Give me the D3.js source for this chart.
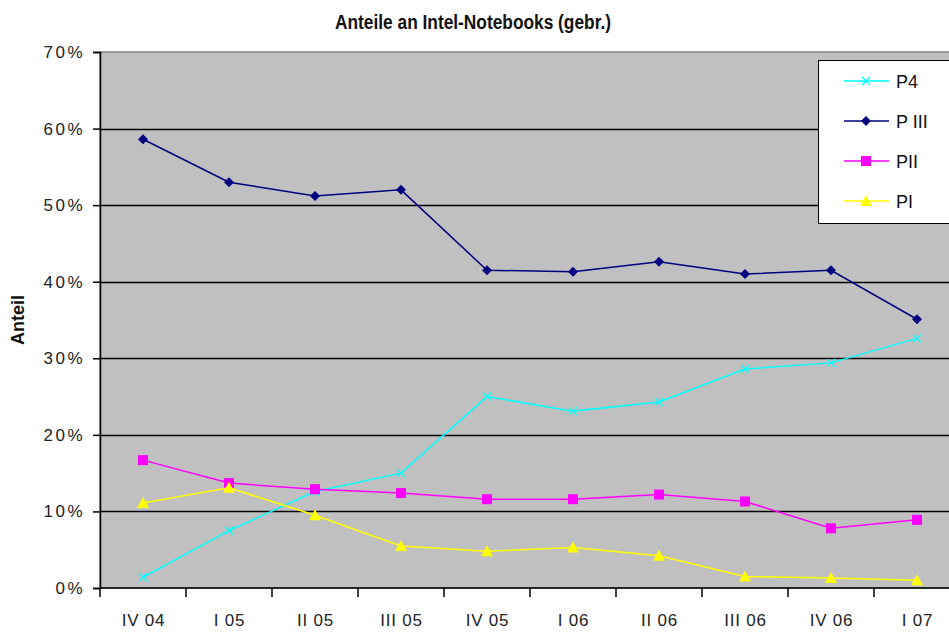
<!DOCTYPE html>
<html>
<head>
<meta charset="utf-8">
<script src="https://cdn.jsdelivr.net/npm/d3@7"></script>
<style>
  body { margin: 0; background: #fff; }
  svg { display: block; font-family: Arial, 'Liberation Sans', sans-serif; }
</style>
</head>
<body>
<div id="chart"></div>
<script>
  // Data
  const categories = ['IV 04', 'I 05', 'II 05', 'III 05', 'IV 05', 'I 06', 'II 06', 'III 06', 'IV 06', 'I 07'];
  const p4   = [1.4, 7.5, 12.6, 15.0, 25.0, 23.1, 24.3, 28.6, 29.4, 32.6];
  const p3   = [58.6, 53.0, 51.2, 52.0, 41.5, 41.3, 42.6, 41.0, 41.5, 35.1];
  const p2   = [16.7, 13.7, 12.9, 12.4, 11.6, 11.6, 12.2, 11.3, 7.8, 8.9];
  const p1   = [11.1, 13.1, 9.5, 5.5, 4.8, 5.3, 4.2, 1.5, 1.3, 1.0];
  const yTicks = [0, 10, 20, 30, 40, 50, 60, 70];

  const series = [
    { name: 'P4', values: p4, color: '#00ffff', marker: 'x' },
    { name: 'P III', values: p3, color: '#000080', marker: 'diamond' },
    { name: 'PII', values: p2, color: '#ff00ff', marker: 'square' },
    { name: 'PI', values: p1, color: '#ffff00', marker: 'triangle' }
  ];

  const width = 949, height = 632;
  const plot = { left: 100, top: 52, right: 960, bottom: 588 };

  const svg = d3.select('#chart').append('svg')
    .attr('width', width).attr('height', height);

  const x = d3.scaleBand().domain(categories).range([plot.left, plot.right]);
  const y = d3.scaleLinear().domain([0, 70]).range([plot.bottom, plot.top]);

  // plot background
  svg.append('rect')
    .attr('x', plot.left).attr('y', plot.top)
    .attr('width', plot.right - plot.left).attr('height', plot.bottom - plot.top)
    .attr('fill', '#c0c0c0').attr('stroke', '#808080').attr('stroke-width', 1.5);

  // gridlines
  svg.append('g').selectAll('line')
    .data(yTicks.filter(t => t > 0 && t < 70))
    .enter().append('line')
    .attr('x1', plot.left).attr('x2', plot.right)
    .attr('y1', d => Math.round(y(d)) + 0.5).attr('y2', d => Math.round(y(d)) + 0.5)
    .attr('stroke', '#000').attr('stroke-width', 1.5);

  // y axis
  const yAxis = svg.append('g')
    .attr('transform', `translate(${plot.left},0)`)
    .call(d3.axisLeft(y).tickValues(yTicks).tickFormat(d => d + '%').tickSize(7).tickPadding(8));
  yAxis.select('.domain').attr('stroke', '#000').attr('stroke-width', 1.5);
  yAxis.selectAll('.tick line').attr('stroke', '#000').attr('stroke-width', 1.5);
  yAxis.selectAll('text').attr('font-size', 17).attr('fill', '#222')
    .attr('letter-spacing', 2.5)
    .attr('font-family', 'Arial, "Liberation Sans", sans-serif');

  // x axis (ticks between categories)
  const xAxisG = svg.append('g').attr('transform', `translate(0,${plot.bottom})`);
  xAxisG.append('line')
    .attr('x1', plot.left).attr('x2', plot.right)
    .attr('y1', 0).attr('y2', 0)
    .attr('stroke', '#000').attr('stroke-width', 1.5);
  const tickPos = categories.map(c => x(c)).concat([x(categories[categories.length - 1]) + x.bandwidth()]);
  xAxisG.selectAll('line.tk').data(tickPos).enter().append('line')
    .attr('class', 'tk')
    .attr('x1', d => d).attr('x2', d => d)
    .attr('y1', 0).attr('y2', 9)
    .attr('stroke', '#000').attr('stroke-width', 1.5);
  xAxisG.selectAll('text').data(categories).enter().append('text')
    .attr('x', d => x(d) + x.bandwidth() / 2 + 0.5)
    .attr('y', 38)
    .attr('text-anchor', 'middle')
    .attr('font-size', 17).attr('fill', '#222')
    .attr('letter-spacing', 0.8)
    .text(d => d);

  // lines
  const line = d3.line()
    .x((d, i) => x(categories[i]) + x.bandwidth() / 2)
    .y(d => y(d));

  function drawMarker(g, type, color) {
    if (type === 'x') {
      g.append('path').attr('d', 'M-4,-4L4,4M-4,4L4,-4')
        .attr('stroke', color).attr('stroke-width', 1.3).attr('fill', 'none');
    } else if (type === 'diamond') {
      g.append('path').attr('d', 'M0,-5L5,0L0,5L-5,0Z').attr('fill', color);
    } else if (type === 'square') {
      g.append('rect').attr('x', -5).attr('y', -5).attr('width', 10).attr('height', 10).attr('fill', color);
    } else if (type === 'triangle') {
      g.append('path').attr('d', 'M0,-6L6,5L-6,5Z').attr('fill', color);
    }
  }

  series.forEach(s => {
    svg.append('path')
      .datum(s.values)
      .attr('d', line)
      .attr('fill', 'none')
      .attr('stroke', s.color)
      .attr('stroke-width', 1.5);
    s.values.forEach((v, i) => {
      const g = svg.append('g')
        .attr('transform', `translate(${x(categories[i]) + x.bandwidth() / 2},${y(v)})`);
      drawMarker(g, s.marker, s.color);
    });
  });

  // title
  svg.append('text')
    .attr('x', 473).attr('y', 29)
    .attr('text-anchor', 'middle')
    .attr('font-family', '"Liberation Sans Narrow", "Arial Narrow", Arial, sans-serif')
    .attr('font-weight', 'bold')
    .attr('font-size', 20)
    .attr('textLength', 276)
    .attr('lengthAdjust', 'spacingAndGlyphs')
    .attr('fill', '#111')
    .text('Anteile an Intel-Notebooks (gebr.)');

  // y axis title
  svg.append('text')
    .attr('transform', 'translate(24,320) rotate(-90)')
    .attr('text-anchor', 'middle')
    .attr('font-weight', 'bold')
    .attr('font-size', 18)
    .attr('fill', '#111')
    .text('Anteil');

  // legend
  const legend = svg.append('g');
  legend.append('rect')
    .attr('x', 818.5).attr('y', 60.5).attr('width', 140).attr('height', 163)
    .attr('fill', '#fff').attr('stroke', '#000').attr('stroke-width', 1);
  series.forEach((s, i) => {
    const ly = 81 + i * 40;
    legend.append('line')
      .attr('x1', 844).attr('x2', 889).attr('y1', ly).attr('y2', ly)
      .attr('stroke', s.color).attr('stroke-width', 1.5);
    const g = legend.append('g').attr('transform', `translate(866,${ly})`);
    drawMarker(g, s.marker, s.color);
    legend.append('text')
      .attr('x', 896).attr('y', ly + 7)
      .attr('font-size', 18).attr('fill', '#111')
      .text(s.name);
  });
</script>
</body>
</html>
